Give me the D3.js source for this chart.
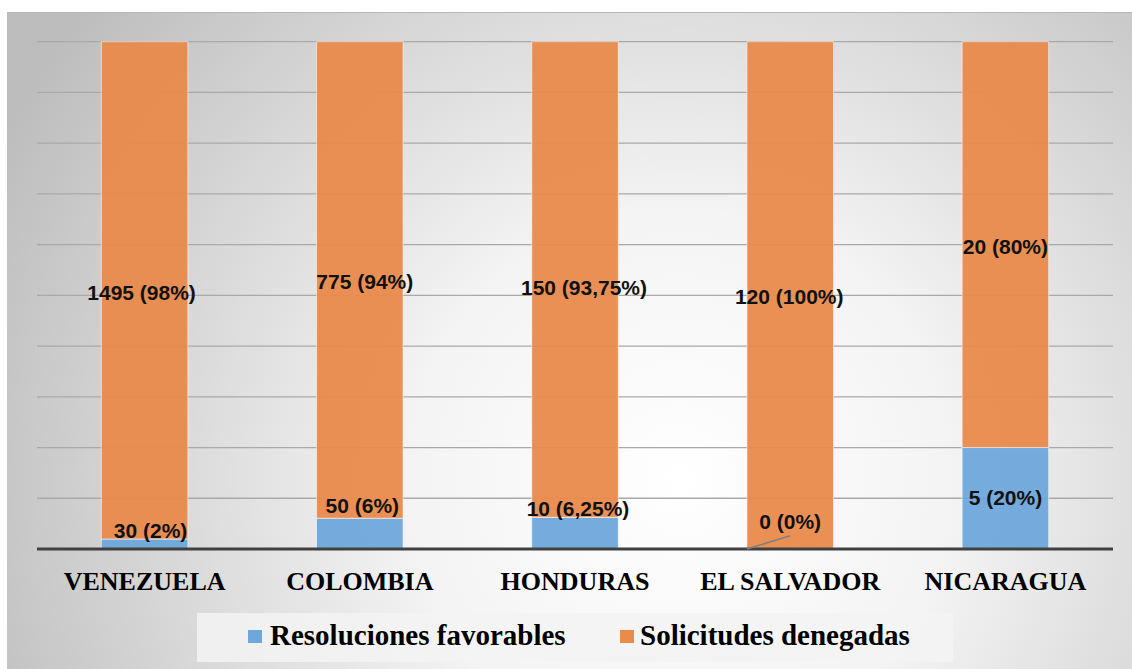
<!DOCTYPE html>
<html>
<head>
<meta charset="utf-8">
<script src="https://cdn.jsdelivr.net/npm/d3@7"></script>
<style>
  body { margin: 0; background: #ffffff; }
  svg { display: block; }
</style>
</head>
<body>
<svg id="chart" width="1132" height="669"></svg>
<script>
//Data
var countries = ["VENEZUELA", "COLOMBIA", "HONDURAS", "EL SALVADOR", "NICARAGUA"];
var favorables = [30, 50, 10, 0, 5];
var denegadas = [1495, 775, 150, 120, 20];
var favorablesPct = ["2%", "6%", "6,25%", "0%", "20%"];
var denegadasPct = ["98%", "94%", "93,75%", "100%", "80%"];
var seriesNames = ["Resoluciones favorables", "Solicitudes denegadas"];
var yTicks = [0, 0.1, 0.2, 0.3, 0.4, 0.5, 0.6, 0.7, 0.8, 0.9, 1];

//Label nudges (dx, dy) - labels were hand moved in the original
var favNudge = [[6, -14], [2.5, -28.6], [3, -25], [0, -27.3], [0, -1]];
var denNudge = [[-3, 2], [5, 1], [9, 7.5], [-1, 1], [0, 1.5]];

//Colours
var blue = "#6FA7DB";
var orange = "#EA8A4B";

//Plot area
var plotLeft = 37;
var plotRight = 1113;
var plotTop = 41.7;
var plotBottom = 549;

var svg = d3.select("#chart");

//background gradient
var defs = svg.append("defs");
var grad = defs.append("radialGradient").attr("id", "bg")
  .attr("gradientUnits", "userSpaceOnUse")
  .attr("cx", 680).attr("cy", 480).attr("r", 760);
grad.append("stop").attr("offset", "0").attr("stop-color", "#ffffff");
grad.append("stop").attr("offset", "0.35").attr("stop-color", "#f4f4f4");
grad.append("stop").attr("offset", "1").attr("stop-color", "#bdbdbd");

svg.append("rect").attr("x", 7).attr("y", 12).attr("width", 1125).attr("height", 657)
  .attr("fill", "url(#bg)");
svg.append("line").attr("x1", 7).attr("x2", 1132).attr("y1", 12.5).attr("y2", 12.5)
  .attr("stroke", "#b8b8b8").attr("stroke-width", 1);

//Stack the shares
var rows = countries.map(function(c, i) {
  var total = favorables[i] + denegadas[i];
  return { country: c, fav: favorables[i] / total, den: denegadas[i] / total, i: i };
});
var stack = d3.stack().keys(["fav", "den"]);
var layers = stack(rows);

//Scales
var x = d3.scaleBand().domain(countries).range([plotLeft, plotRight])
  .paddingInner(0.598).paddingOuter(0.299);
var y = d3.scaleLinear().domain([0, 1]).range([plotBottom, plotTop]);

//gridlines
svg.append("g").selectAll("line").data(yTicks.slice(1)).enter().append("line")
  .attr("x1", plotLeft).attr("x2", plotRight)
  .attr("y1", function(d) { return y(d); }).attr("y2", function(d) { return y(d); })
  .attr("stroke", "#a9a9a9").attr("stroke-width", 1.3);

//bars
var colours = [blue, orange];
svg.append("g").selectAll("g").data(layers).enter().append("g")
  .attr("fill", function(d, i) { return colours[i]; })
  .selectAll("rect").data(function(d) { return d; }).enter().append("rect")
  .attr("x", function(d) { return x(d.data.country); })
  .attr("width", x.bandwidth())
  .attr("y", function(d) { return y(d[1]); })
  .attr("height", function(d) { return y(d[0]) - y(d[1]); })
  .attr("fill-opacity", 0.95)
  .attr("stroke", "#ffffff").attr("stroke-opacity", 0.55).attr("stroke-width", 1);

//baseline
svg.append("line").attr("x1", plotLeft).attr("x2", plotRight)
  .attr("y1", y(0)).attr("y2", y(0))
  .attr("stroke", "#404040").attr("stroke-width", 3);

//data labels
function labelPos(d, layerIndex) {
  var nudge = layerIndex == 0 ? favNudge[d.data.i] : denNudge[d.data.i];
  var cx = x(d.data.country) + x.bandwidth() / 2 + nudge[0];
  var cy = (y(d[0]) + y(d[1])) / 2 + nudge[1];
  return [cx, cy];
}
function labelText(d, layerIndex) {
  var i = d.data.i;
  if (layerIndex == 0) return favorables[i] + " (" + favorablesPct[i] + ")";
  return denegadas[i] + " (" + denegadasPct[i] + ")";
}

//leader line for empty segments
layers[0].forEach(function(d) {
  if (d[1] - d[0] > 0) return;
  var p = labelPos(d, 0);
  svg.append("line")
    .attr("x1", x(d.data.country)).attr("y1", y(0))
    .attr("x2", p[0]).attr("y2", p[1] + 14)
    .attr("stroke", "#808080").attr("stroke-width", 1.6);
});

layers.forEach(function(layer, li) {
  svg.append("g").selectAll("text").data(layer).enter().append("text")
    .attr("x", function(d) { return labelPos(d, li)[0]; })
    .attr("y", function(d) { return labelPos(d, li)[1]; })
    .attr("dy", "0.36em")
    .attr("text-anchor", "middle")
    .attr("font-family", "'Liberation Sans', Arial, sans-serif")
    .attr("font-weight", "bold")
    .attr("font-size", 21)
    .attr("fill", "#111111")
    .text(function(d) { return labelText(d, li); });
});

//category axis
var xAxis = svg.append("g").attr("transform", "translate(0," + 590 + ")")
  .call(d3.axisBottom(x).tickSize(0).tickPadding(0));
xAxis.select(".domain").remove();
xAxis.selectAll("text")
  .attr("dy", 0).attr("y", 0)
  .attr("font-family", "'Liberation Serif', 'Times New Roman', serif")
  .attr("font-weight", "bold")
  .attr("font-size", 26)
  .attr("fill", "#000000");

//legend
var legend = svg.append("g");
legend.append("rect").attr("x", 197).attr("y", 613).attr("width", 756).attr("height", 49)
  .attr("fill", "#f3f3f3").attr("fill-opacity", 0.85);
var legendX = [248, 620];
var legendItems = legend.selectAll("g").data(seriesNames).enter().append("g")
  .attr("transform", function(d, i) { return "translate(" + legendX[i] + ",0)"; });
legendItems.append("rect").attr("x", 0).attr("y", 630).attr("width", 14).attr("height", 13)
  .attr("fill", function(d, i) { return colours[i]; });
legendItems.append("text").attr("x", function(d, i) { return i == 0 ? 22 : 20; }).attr("y", 645)
  .attr("font-family", "'Liberation Serif', 'Times New Roman', serif")
  .attr("font-weight", "bold")
  .attr("font-size", 29)
  .attr("fill", "#000000")
  .text(function(d) { return d; });
</script>
</body>
</html>
